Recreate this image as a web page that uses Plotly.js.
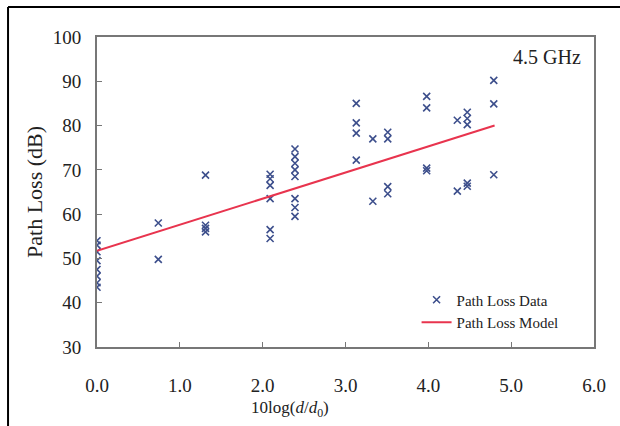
<!DOCTYPE html>
<html>
<head>
<meta charset="utf-8">
<script src="https://cdn.plot.ly/plotly-3.0.1.min.js"></script>
<style>
  html, body { margin: 0; padding: 0; background: #fff; }
  #chart { width: 620px; height: 426px; }
</style>
</head>
<body>
<div id="chart"></div>
<script>
// Measured path loss data (x = 10log(d/d0), y = path loss in dB)
var dataX = [
  0, 0, 0, 0, 0, 0, 0, 0,
  0.74, 0.74,
  1.31, 1.31, 1.31, 1.31,
  2.09, 2.09, 2.09, 2.09, 2.09, 2.09,
  2.39, 2.39, 2.39, 2.39, 2.39, 2.39, 2.39, 2.39,
  3.13, 3.13, 3.13, 3.13,
  3.33, 3.33,
  3.51, 3.51, 3.51, 3.51,
  3.98, 3.98, 3.98, 3.98,
  4.35, 4.35,
  4.47, 4.47, 4.47, 4.47, 4.47,
  4.79, 4.79, 4.79
];
var dataY = [
  54, 53, 51.5, 49.5, 47.5, 46, 44.5, 43.5,
  58, 49.8,
  68.8, 57.5, 56.8, 56,
  69, 68, 66.5, 63.5, 56.5, 54.5,
  74.7, 73, 71.5, 70, 68.5, 63.5, 61.5, 59.5,
  85, 80.6, 78.3, 72.2,
  77, 62.9,
  78.5, 77, 66.2, 64.6,
  86.6, 84, 70.4, 69.8,
  81.2, 65.2,
  83, 81.6, 80.2, 67, 66.3,
  90.2, 84.9, 68.9
];
// Path loss model line
var modelX = [0, 4.8];
var modelY = [51.7, 80.0];

var xTicks = [0, 1, 2, 3, 4, 5, 6];
var xTickText = ["0.0", "1.0", "2.0", "3.0", "4.0", "5.0", "6.0"];
var yTicks = [30, 40, 50, 60, 70, 80, 90, 100];

var serif = "Liberation Serif, Times New Roman, serif";

var traces = [
  {
    x: dataX, y: dataY, type: "scatter", mode: "markers",
    name: "Path Loss Data",
    marker: { symbol: "x-thin", size: 7, color: "#3d4f8c",
              line: { width: 1.6, color: "#3d4f8c" } }
  },
  {
    x: modelX, y: modelY, type: "scatter", mode: "lines",
    name: "Path Loss Model",
    line: { color: "#e8344e", width: 2 }
  }
];

var layout = {
  width: 620, height: 426,
  margin: { l: 97, r: 26, t: 37, b: 79 },
  paper_bgcolor: "#fff", plot_bgcolor: "#fff",
  font: { family: serif, color: "#222", size: 17 },
  showlegend: true,
  legend: {
    x: 0.643, y: 0.205, xanchor: "left", yanchor: "top",
    bgcolor: "rgba(0,0,0,0)", borderwidth: 0,
    font: { family: serif, size: 15, color: "#222" },
    itemwidth: 30, tracegroupgap: 0
  },
  xaxis: {
    range: [0, 6], tickvals: xTicks, ticktext: xTickText,
    ticks: "inside", ticklen: 5, tickwidth: 1, tickcolor: "#777",
    showline: true, linecolor: "#777", linewidth: 2, mirror: true,
    showgrid: false, zeroline: false,
    ticklabelstandoff: 20,
    tickfont: { family: serif, size: 19, color: "#222" }
  },
  yaxis: {
    range: [30, 100], tickvals: yTicks,
    ticks: "inside", ticklen: 5, tickwidth: 1, tickcolor: "#777",
    showline: true, linecolor: "#777", linewidth: 2, mirror: true,
    showgrid: false, zeroline: false,
    ticklabelstandoff: 10,
    tickfont: { family: serif, size: 19, color: "#222" },
    title: { text: "Path Loss (dB)", font: { family: serif, size: 22, color: "#222" }, standoff: 4 }
  },
  annotations: [
    {
      text: "4.5 GHz", xref: "paper", yref: "paper", x: 0.978, y: 0.935,
      xanchor: "right", yanchor: "middle", showarrow: false,
      font: { family: serif, size: 20, color: "#222" }
    },
    {
      text: "10log(<i>d</i>/<i>d</i><sub>0</sub>)", xref: "paper", yref: "paper",
      x: 0.388, y: -0.2, xanchor: "center", yanchor: "middle", showarrow: false,
      font: { family: serif, size: 17, color: "#222" }
    }
  ],
  shapes: [
    { type: "line", xref: "paper", yref: "paper",
      x0: -0.179, x1: 1.06, y0: 1.097, y1: 1.097,
      line: { color: "#000", width: 2 } },
    { type: "line", xref: "paper", yref: "paper",
      x0: -0.179, x1: -0.179, y0: 1.097, y1: -0.28,
      line: { color: "#000", width: 2 } }
  ]
};

Plotly.newPlot("chart", traces, layout, { displayModeBar: false, staticPlot: true });
</script>
</body>
</html>
